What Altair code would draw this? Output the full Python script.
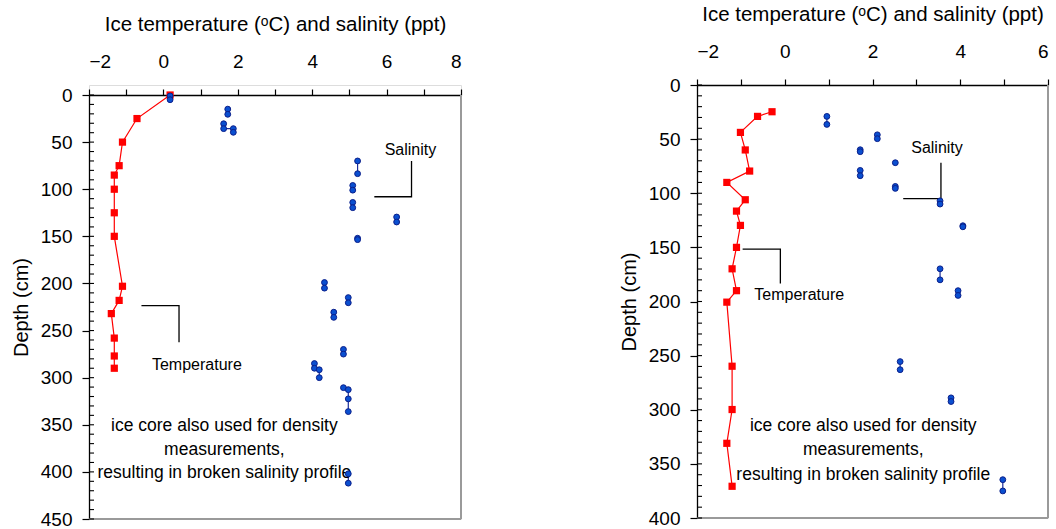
import altair as alt
import pandas as pd

FONT = "Liberation Sans"
X_TITLE = "Ice temperature (\u1d52C) and salinity (ppt)"
Y_TITLE = "Depth (cm)"

# ---------------- Left core ----------------
L_temp_depth = [0, 25, 50, 75, 85, 100, 125, 150, 203, 218, 232, 258, 277, 290]
L_temp = [0.18, -0.71, -1.10, -1.19, -1.32, -1.32, -1.32, -1.32, -1.10, -1.19, -1.40, -1.32, -1.32, -1.32]

L_sal_group = [1, 1, 2, 2, 3, 3, 3, 3, 4, 4, 5, 5, 6, 6, 7, 7, 8, 8, 9, 9, 10, 10,
               11, 11, 12, 12, 13, 13, 13, 13, 14, 14, 14, 14, 15, 15]
L_sal_depth = [1, 5, 15, 20.5, 30.5, 35.7, 35.7, 39.6, 70, 83.5, 96, 101, 114, 119.6,
               129.5, 134.8, 152, 153.5, 199, 205, 215, 220.5, 230.5, 236, 270, 275,
               285, 290, 291.6, 300, 310.6, 312.7, 322.5, 336, 402, 412]
L_sal = [0.18, 0.18, 1.73, 1.73, 1.62, 1.62, 1.88, 1.88, 5.22, 5.22, 5.09, 5.09, 5.09, 5.09,
         6.27, 6.27, 5.22, 5.22, 4.33, 4.33, 4.97, 4.97, 4.58, 4.58, 4.84, 4.84,
         4.06, 4.06, 4.19, 4.19, 4.84, 4.97, 4.97, 4.97, 4.97, 4.97]

# ---------------- Right core ----------------
R_temp_depth = [24.7, 29, 43.8, 60, 79.5, 90, 106, 116.5, 129.7, 150, 169.8, 190, 200.6,
                259.8, 299.8, 331, 370.7]
R_temp = [-0.29, -0.62, -1.01, -0.90, -0.80, -1.32, -0.90, -1.10, -1.01, -1.10, -1.20,
          -1.10, -1.32, -1.20, -1.20, -1.32, -1.20]

R_sal_group = [1, 1, 2, 2, 3, 3, 4, 5, 5, 6, 6, 7, 7, 8, 8, 9, 9, 10, 10, 11, 11, 12, 12, 13, 13]
R_sal_depth = [29, 36.4, 46, 49.6, 59.8, 61.6, 71.8, 78.9, 83.8, 93.7, 95.5, 107, 110,
               130, 131, 169.8, 180, 190, 194.4, 255.5, 263, 289, 292.4, 364.6, 375]
R_sal = [0.96, 0.96, 2.11, 2.11, 1.72, 1.72, 2.52, 1.72, 1.72, 2.52, 2.52, 3.54, 3.54,
         4.06, 4.06, 3.54, 3.54, 3.95, 3.95, 2.63, 2.63, 3.79, 3.79, 4.97, 4.97]

# ---------------- Annotations ----------------
NOTE_LINES = ["ice core also used for density", "measurements,", "resulting in broken salinity profile"]

L_sal_label = (6.64, 58.4)
L_sal_leader_x = [6.67, 6.67, 5.67]
L_sal_leader_y = [70, 108, 108]
L_temp_label = (0.90, 287)
L_temp_leader_x = [-0.59, 0.42, 0.42]
L_temp_leader_y = [223.6, 223.6, 262.5]
L_note_x = 1.64
L_note_y = [351, 376.5, 401.5]

R_sal_label = (3.47, 58.5)
R_sal_leader_x = [3.56, 3.56, 2.70]
R_sal_leader_y = [71.8, 105, 105]
R_temp_label = (0.33, 194)
R_temp_leader_x = [-0.96, -0.10, -0.10]
R_temp_leader_y = [151.6, 151.6, 183.4]
R_note_x = 1.79
R_note_y = [315, 337.4, 360]


def panel(temp_depth, temp, sal_group, sal_depth, sal, xmax, ymax, width, height, top,
          sal_label, sal_lx, sal_ly, temp_label, temp_lx, temp_ly, note_x, note_y):
    xvals = list(range(-2, xmax + 1))
    xscale = alt.Scale(domain=[-2, xmax], nice=False, zero=False)
    yscale = alt.Scale(domain=[0, ymax], nice=False, range=[top, height])
    xaxis = alt.Axis(orient="top", values=xvals, offset=-top,
                     labelExpr="datum.value % 2 === 0 ? datum.label : ''",
                     title=X_TITLE, titleFontSize=20.5, titleFontWeight="normal",
                     titleFont=FONT, titlePadding=18, labelFontSize=19, labelFont=FONT,
                     labelPadding=18, ticks=True, tickSize=6, tickWidth=1.2, grid=False,
                     domainColor="black", domainWidth=1.3, tickColor="black",
                     labelColor="black", titleColor="black")
    yaxis = alt.Axis(orient="left", values=list(range(0, ymax + 1, 50)), title=Y_TITLE,
                     titleFontSize=20, titleFontWeight="normal", titleFont=FONT,
                     titlePadding=9, labelFontSize=19, labelFont=FONT, labelPadding=10,
                     ticks=True, tickSize=7, tickWidth=1.2, grid=False, domainColor="black",
                     domainWidth=1.3, tickColor="black", labelColor="black",
                     titleColor="black")

    tdf = pd.DataFrame({"depth": temp_depth, "val": temp, "i": range(len(temp))})
    sdf = pd.DataFrame({"depth": sal_depth, "val": sal, "g": sal_group, "i": range(len(sal))})

    X = lambda f: alt.X(f, scale=xscale, axis=xaxis)
    Y = lambda f: alt.Y(f, scale=yscale, axis=yaxis)

    # grey frame on right and bottom, at the ends of the scale domains
    bdf = pd.DataFrame({"x": [xmax, -2], "x2": [xmax, xmax], "y": [0, ymax], "y2": [ymax, ymax]})
    frame = alt.Chart(bdf).mark_rule(color="#9a9a9a", strokeWidth=2).encode(
        x=X("x:Q"), x2="x2:Q", y=Y("y:Q"), y2="y2:Q")

    # minor ticks (every 10 cm) pointing into the plot
    mdf = pd.DataFrame({"t": list(range(0, ymax + 1, 10))})
    minor = alt.Chart(mdf).mark_rule(color="black", strokeWidth=1.1).encode(
        x=alt.value(0), x2=alt.value(5), y=Y("t:Q"))

    tline = alt.Chart(tdf).mark_line(color="#ff0000", strokeWidth=1.2).encode(
        x=X("val:Q"), y=Y("depth:Q"), order="i:Q")
    tpts = alt.Chart(tdf).mark_square(color="#ff0000", opacity=1, size=52).encode(
        x=X("val:Q"), y=Y("depth:Q"))

    sline = alt.Chart(sdf).mark_line(color="#1c2c99", strokeWidth=1.2).encode(
        x=X("val:Q"), y=Y("depth:Q"), detail="g:N", order="i:Q")
    spts = alt.Chart(sdf).mark_circle(size=34, color="#0a4fd0", opacity=1,
                                       stroke="#0b1f8a", strokeWidth=1).encode(
        x=X("val:Q"), y=Y("depth:Q"))

    ldf = pd.DataFrame({
        "x": sal_lx + temp_lx, "y": sal_ly + temp_ly,
        "k": ["s"] * len(sal_lx) + ["t"] * len(temp_lx),
        "i": list(range(len(sal_lx))) + list(range(len(temp_lx)))})
    leaders = alt.Chart(ldf).mark_line(color="black", strokeWidth=1.3).encode(
        x=X("x:Q"), y=Y("y:Q"), detail="k:N", order="i:Q")

    adf = pd.DataFrame({"x": [sal_label[0], temp_label[0]], "y": [sal_label[1], temp_label[1]],
                        "t": ["Salinity", "Temperature"]})
    alabels = alt.Chart(adf).mark_text(fontSize=16, font=FONT, color="black").encode(
        x=X("x:Q"), y=Y("y:Q"), text="t:N")

    ndf = pd.DataFrame({"x": [note_x] * len(NOTE_LINES), "y": note_y, "t": NOTE_LINES})
    note = alt.Chart(ndf).mark_text(fontSize=17.5, font=FONT, color="black").encode(
        x=X("x:Q"), y=Y("y:Q"), text="t:N")

    return alt.layer(frame, tline, sline, leaders, alabels, note, tpts, spts, minor).properties(
        width=width, height=height)


left = panel(L_temp_depth, L_temp, L_sal_group, L_sal_depth, L_sal, 8, 450, 372, 434, 10,
             L_sal_label, L_sal_leader_x, L_sal_leader_y, L_temp_label,
             L_temp_leader_x, L_temp_leader_y, L_note_x, L_note_y)
right = panel(R_temp_depth, R_temp, R_sal_group, R_sal_depth, R_sal, 6, 400, 351, 433, 0,
              R_sal_label, R_sal_leader_x, R_sal_leader_y, R_temp_label,
              R_temp_leader_x, R_temp_leader_y, R_note_x, R_note_y)

chart = alt.hconcat(left, right, spacing=155).configure_view(
    stroke=None).configure(background="white").properties(
    padding={"left": 10, "top": 3, "right": 0, "bottom": 0})

chart.save("out.html", embed_options={"renderer": "svg", "actions": False})
